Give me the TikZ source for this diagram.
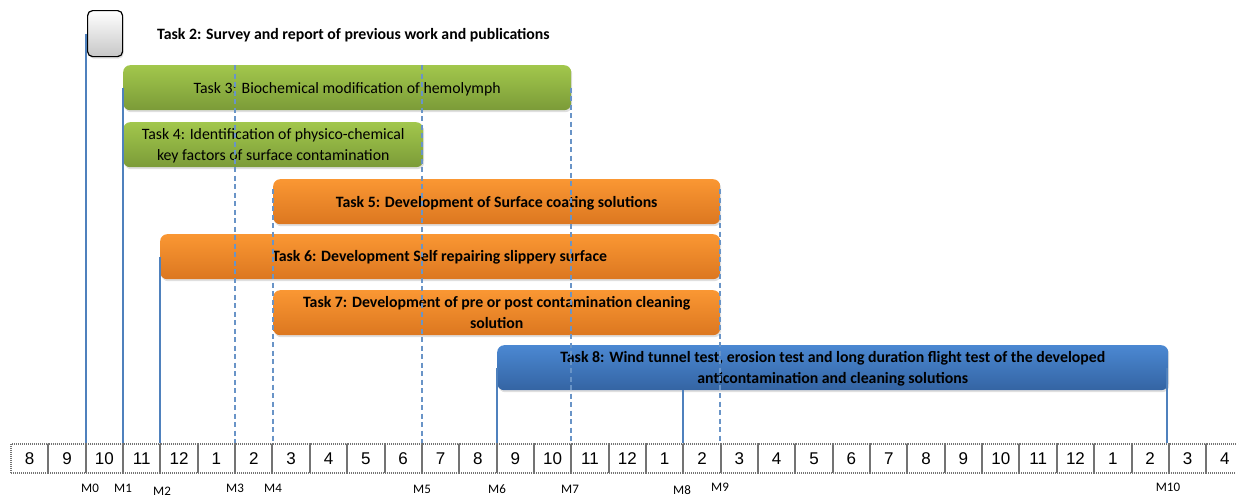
\documentclass[tikz,border=0pt]{standalone}
\usepackage{fontspec}
\setmainfont{Carlito}
\newfontfamily\numfont{Liberation Sans}
\usetikzlibrary{calc,positioning,shadows}
\definecolor{grntop}{HTML}{A2C74C}
\definecolor{grnbot}{HTML}{7B9B38}
\definecolor{orgtop}{HTML}{FA9733}
\definecolor{orgbot}{HTML}{DC7720}
\definecolor{blutop}{HTML}{4B88D2}
\definecolor{blubot}{HTML}{3464A3}
\definecolor{mlc}{HTML}{4F81BD}
\tikzset{
  bar/.style={rounded corners=7pt,anchor=north west,minimum height=45pt,inner sep=2pt,align=center,text depth=0pt,
    font=\fontsize{15.8}{21}\selectfont,drop shadow={opacity=0.25,shadow xshift=1pt,shadow yshift=-2pt}},
  grnbar/.style={bar,top color=grntop,bottom color=grnbot},
  orgbar/.style={bar,top color=orgtop,bottom color=orgbot,font=\fontsize{15.8}{21}\selectfont\bfseries},
  blubar/.style={bar,top color=blutop,bottom color=blubot,font=\fontsize{15.8}{21}\selectfont\bfseries},
  mline/.style={draw=mlc,line width=1.1pt},
  mdash/.style={mline,draw=mlc!85,line width=1.3pt,dash pattern=on 5pt off 3.5pt},
  mlabel/.style={font=\fontsize{13}{13}\selectfont,inner sep=1pt},
  cell/.style={draw=black!55,line width=2pt,dash pattern=on 1pt off 1pt,minimum width=37.35pt,minimum height=29pt,
    anchor=north west,inner sep=0pt,font=\numfont\fontsize{17}{17}\selectfont}
}
\begin{document}
\begin{tikzpicture}[x=1pt,y=-1pt]
\useasboundingbox (0,0) rectangle (1236,496);
% task bars
\node[rounded corners=5pt,anchor=north west,draw=black,line width=1.2pt,top color=white,bottom color=black!22,
  minimum width=35pt,minimum height=46pt,drop shadow={opacity=0.25,shadow xshift=1pt,shadow yshift=-2pt}] (t1) at (87,10) {};
\node[anchor=west,inner sep=0pt,font=\fontsize{15.8}{15}\selectfont\bfseries] (t2) at (157,35)
  {Task 2: Survey and report of previous work and publications};
\node[grnbar,minimum width=448pt] (t3) at (123,65) {Task 3: Biochemical modification of hemolymph};
\node[grnbar,minimum width=300pt] (t4) at (123,122) {Task 4: Identification of physico-chemical\\key factors of surface contamination};
\node[orgbar,minimum width=447pt] (t5) at (273,179) {Task 5: Development of Surface coating solutions};
\node[orgbar,minimum width=560pt] (t6) at (160,234) {};
\node[anchor=west,inner sep=0pt,font=\fontsize{15.8}{15}\selectfont\bfseries] (t6txt) at ($(t6.west)+(112,1)$)
  {Task 6: Development Self repairing slippery surface};
\node[orgbar,minimum width=447pt] (t7) at (273,290) {Task 7: Development of pre or post contamination cleaning\\solution};
\node[blubar,minimum width=671pt] (t8) at (497,345) {Task 8: Wind tunnel test, erosion test and long duration flight test of the developed\\anticontamination and cleaning solutions};
% timeline
\foreach \m [count=\i from 0] in {8,9,10,11,12,1,2,3,4,5,6,7,8,9,10,11,12,1,2,3,4,5,6,7,8,9,10,11,12,1,2,3,4}
  \node[cell] (c\i) at ({10+37.35*\i},443) {\m};
% milestones
\foreach \k/\x in {0/86,1/123,2/160,3/235,4/273,5/422,6/497,7/571,8/683,9/720,10/1167}
  \coordinate (p\k) at (\x,443);
\draw[mline] (p0 |- t1.west) -- (p0);
\draw[mline] (p1 |- t3.west) -- (p1);
\draw[mline] (p2 |- t6.west) -- (p2);
\draw[mdash] (p3 |- t3.north) -- (p3);
\draw[mdash] ($(p4 |- t5.north)+(0,10)$) -- (p4);
\draw[mdash] (p5 |- t3.north) -- (p5);
\draw[mline] (p6 |- t8.west) -- (p6);
\draw[mdash] (p7 |- t3.east) -- (p7);
\draw[mline] (p8 |- t8.south) -- (p8);
\draw[mdash] ($(p9 |- t5.north)+(0,10)$) -- (p9);
\draw[mline] (p10 |- t8.east) -- (p10);
\node[mlabel] (m0) at (90,488) {M0};
\node[mlabel] (m1) at (123,488) {M1};
\node[mlabel] (m2) at (162,491) {M2};
\node[mlabel] (m3) at (235,488) {M3};
\node[mlabel] (m4) at (273,488) {M4};
\node[mlabel] (m5) at (422,489) {M5};
\node[mlabel] (m6) at (497,489) {M6};
\node[mlabel] (m7) at (570,489) {M7};
\node[mlabel] (m8) at (682,490) {M8};
\node[mlabel] (m9) at (720,487) {M9};
\node[mlabel] (m10) at (1168,487) {M10};
\end{tikzpicture}
\end{document}
